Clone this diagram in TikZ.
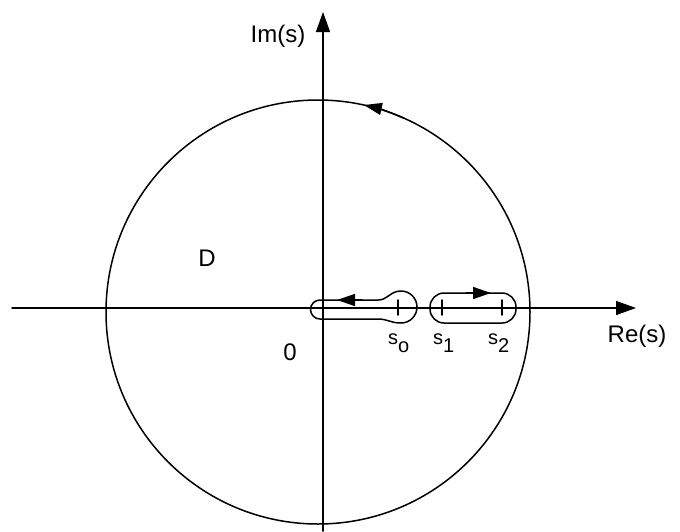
\documentclass[tikz,border=0pt]{standalone}
\usepackage{fontspec}
\setmainfont{Liberation Sans}
\usetikzlibrary{arrows.meta}
\newcommand{\lowsub}[1]{\raisebox{-8pt}{#1}}
\begin{document}
\begin{tikzpicture}[x=1pt,y=-1pt,
  line/.style={line width=1.5pt, line cap=round, line join=round},
  bigtip/.style={-{Triangle[length=20pt,width=14pt]}},
  midtip/.style={-{Triangle[length=18pt,width=12pt]}},
  lab/.style={font=\fontsize{24}{27}\selectfont, inner sep=0pt},
  slab/.style={font=\fontsize{20}{22}\selectfont, inner sep=0pt, anchor=base west}]
\useasboundingbox (0,0) rectangle (680,531);
% axes
\coordinate (xl) at (12,308);
\coordinate (xr) at (636,308);
\coordinate (yb) at (323,531);
\coordinate (yt) at (323,12);
\draw[line, bigtip] (xl) -- (xr);
\draw[line, bigtip] (yb) -- (yt);
% big circle
\coordinate (c) at (318,312);
\draw[line] (c) circle[radius=212];
\draw[line, midtip] (c) ++(-66:212) arc[start angle=-66, end angle=-77.5, radius=212];
% left contour around s0
\draw[line] (378,300) .. controls (388,300) and (390,291) .. (401,291)
  arc[start angle=-90, end angle=90, radius=16]
  .. controls (390,323) and (388,319) .. (378,319) -- (320,319)
  arc[start angle=90, end angle=270, radius=9.5] -- cycle;
\draw[line, midtip] (362,300) -- (337,300);
% right contour
\draw[line, rounded corners=14pt] (430,293) rectangle (516,323);
\draw[line, midtip] (466,293) -- (491,293);
% ticks
\draw[line] (398,300) -- (398,315);
\draw[line] (442,300) -- (442,315);
\draw[line] (502,300) -- (502,315);
% labels
\node[lab] (im) at (278,36) {Im(s)};
\node[lab] (re) at (637,336) {Re(s)};
\node[lab] (d) at (207,258) {D};
\node[lab] (zero) at (290,352) {0};
\node[slab] (s0) at (388,344) {s\lowsub{o}};
\node[slab] (s1) at (433,344) {s\lowsub{1}};
\node[slab] (s2) at (488,344) {s\lowsub{2}};
\end{tikzpicture}
\end{document}
